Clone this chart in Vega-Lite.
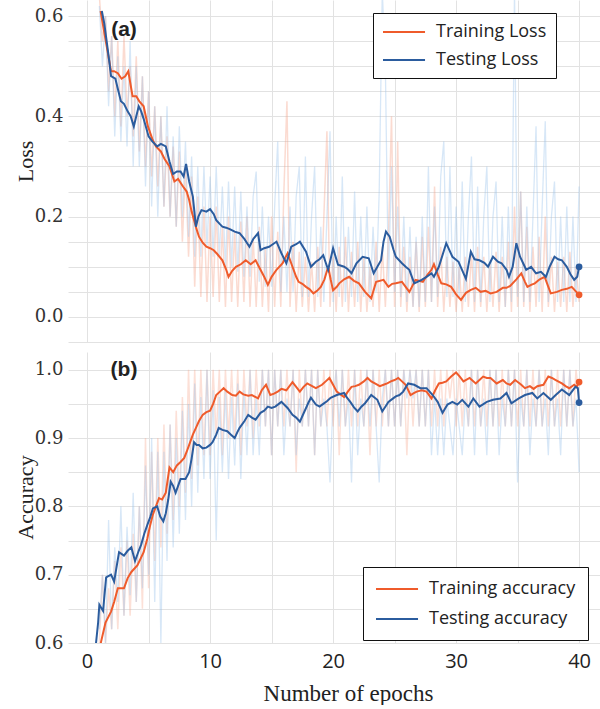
{
"$schema": "https://vega.github.io/schema/vega-lite/v6.json",
"padding": {"left": 14, "top": 0, "right": 0, "bottom": 0},
"background": "white",
"spacing": 10,
"config": {"view": {"stroke": null}, "axis": {"gridColor": "#e2e2e2", "gridWidth": 1, "ticks": false, "domain": false}},
"datasets": {
"loss": [
{"s":"Training Loss","e":1.1,"v":0.61},{"s":"Training Loss","e":1.55,"v":0.546},{"s":"Training Loss","e":1.95,"v":0.49},{"s":"Training Loss","e":2.2,"v":0.49},{"s":"Training Loss","e":2.5,"v":0.486},{"s":"Training Loss","e":2.8,"v":0.475},{"s":"Training Loss","e":3.1,"v":0.48},{"s":"Training Loss","e":3.35,"v":0.49},{"s":"Training Loss","e":3.7,"v":0.44},{"s":"Training Loss","e":4.0,"v":0.44},{"s":"Training Loss","e":4.25,"v":0.43},{"s":"Training Loss","e":4.6,"v":0.42},{"s":"Training Loss","e":4.95,"v":0.38},{"s":"Training Loss","e":5.3,"v":0.355},{"s":"Training Loss","e":5.6,"v":0.34},{"s":"Training Loss","e":6.0,"v":0.33},{"s":"Training Loss","e":6.3,"v":0.315},{"s":"Training Loss","e":6.7,"v":0.3},{"s":"Training Loss","e":7.1,"v":0.27},{"s":"Training Loss","e":7.4,"v":0.275},{"s":"Training Loss","e":7.8,"v":0.26},{"s":"Training Loss","e":8.1,"v":0.25},{"s":"Training Loss","e":8.3,"v":0.233},{"s":"Training Loss","e":8.5,"v":0.21},{"s":"Training Loss","e":8.7,"v":0.193},{"s":"Training Loss","e":8.9,"v":0.175},{"s":"Training Loss","e":9.1,"v":0.16},{"s":"Training Loss","e":9.4,"v":0.148},{"s":"Training Loss","e":9.7,"v":0.14},{"s":"Training Loss","e":10.0,"v":0.137},{"s":"Training Loss","e":10.3,"v":0.133},{"s":"Training Loss","e":10.6,"v":0.125},{"s":"Training Loss","e":11.0,"v":0.113},{"s":"Training Loss","e":11.3,"v":0.095},{"s":"Training Loss","e":11.5,"v":0.08},{"s":"Training Loss","e":11.8,"v":0.092},{"s":"Training Loss","e":12.1,"v":0.1},{"s":"Training Loss","e":12.5,"v":0.105},{"s":"Training Loss","e":12.9,"v":0.113},{"s":"Training Loss","e":13.3,"v":0.105},{"s":"Training Loss","e":13.7,"v":0.113},{"s":"Training Loss","e":14.1,"v":0.094},{"s":"Training Loss","e":14.4,"v":0.08},{"s":"Training Loss","e":14.7,"v":0.064},{"s":"Training Loss","e":15.0,"v":0.08},{"s":"Training Loss","e":15.4,"v":0.094},{"s":"Training Loss","e":15.9,"v":0.107},{"s":"Training Loss","e":16.3,"v":0.127},{"s":"Training Loss","e":16.7,"v":0.1},{"s":"Training Loss","e":17.0,"v":0.08},{"s":"Training Loss","e":17.2,"v":0.07},{"s":"Training Loss","e":17.5,"v":0.066},{"s":"Training Loss","e":17.8,"v":0.06},{"s":"Training Loss","e":18.1,"v":0.055},{"s":"Training Loss","e":18.4,"v":0.047},{"s":"Training Loss","e":18.7,"v":0.052},{"s":"Training Loss","e":19.0,"v":0.06},{"s":"Training Loss","e":19.3,"v":0.075},{"s":"Training Loss","e":19.6,"v":0.1},{"s":"Training Loss","e":19.8,"v":0.075},{"s":"Training Loss","e":20.0,"v":0.053},{"s":"Training Loss","e":20.3,"v":0.06},{"s":"Training Loss","e":20.5,"v":0.067},{"s":"Training Loss","e":20.9,"v":0.075},{"s":"Training Loss","e":21.3,"v":0.08},{"s":"Training Loss","e":21.7,"v":0.072},{"s":"Training Loss","e":22.1,"v":0.067},{"s":"Training Loss","e":22.6,"v":0.05},{"s":"Training Loss","e":23.1,"v":0.037},{"s":"Training Loss","e":23.5,"v":0.07},{"s":"Training Loss","e":24.1,"v":0.074},{"s":"Training Loss","e":24.5,"v":0.06},{"s":"Training Loss","e":24.8,"v":0.066},{"s":"Training Loss","e":25.1,"v":0.067},{"s":"Training Loss","e":25.6,"v":0.07},{"s":"Training Loss","e":25.9,"v":0.06},{"s":"Training Loss","e":26.2,"v":0.05},{"s":"Training Loss","e":26.7,"v":0.074},{"s":"Training Loss","e":27.3,"v":0.07},{"s":"Training Loss","e":27.7,"v":0.085},{"s":"Training Loss","e":28.0,"v":0.094},{"s":"Training Loss","e":28.2,"v":0.105},{"s":"Training Loss","e":28.5,"v":0.085},{"s":"Training Loss","e":28.8,"v":0.067},{"s":"Training Loss","e":29.2,"v":0.065},{"s":"Training Loss","e":29.6,"v":0.06},{"s":"Training Loss","e":30.0,"v":0.045},{"s":"Training Loss","e":30.4,"v":0.034},{"s":"Training Loss","e":30.8,"v":0.048},{"s":"Training Loss","e":31.2,"v":0.054},{"s":"Training Loss","e":31.6,"v":0.058},{"s":"Training Loss","e":32.0,"v":0.05},{"s":"Training Loss","e":32.4,"v":0.052},{"s":"Training Loss","e":32.8,"v":0.047},{"s":"Training Loss","e":33.3,"v":0.05},{"s":"Training Loss","e":33.8,"v":0.058},{"s":"Training Loss","e":34.1,"v":0.058},{"s":"Training Loss","e":34.4,"v":0.062},{"s":"Training Loss","e":34.9,"v":0.075},{"s":"Training Loss","e":35.3,"v":0.087},{"s":"Training Loss","e":35.6,"v":0.07},{"s":"Training Loss","e":35.8,"v":0.06},{"s":"Training Loss","e":36.1,"v":0.064},{"s":"Training Loss","e":36.4,"v":0.067},{"s":"Training Loss","e":36.8,"v":0.075},{"s":"Training Loss","e":37.2,"v":0.08},{"s":"Training Loss","e":37.5,"v":0.06},{"s":"Training Loss","e":37.7,"v":0.047},{"s":"Training Loss","e":38.2,"v":0.05},{"s":"Training Loss","e":38.6,"v":0.054},{"s":"Training Loss","e":39.0,"v":0.056},{"s":"Training Loss","e":39.4,"v":0.06},{"s":"Training Loss","e":39.7,"v":0.052},{"s":"Training Loss","e":40.0,"v":0.044},
{"s":"Testing Loss","e":1.2,"v":0.61},{"s":"Testing Loss","e":1.4,"v":0.585},{"s":"Testing Loss","e":1.7,"v":0.53},{"s":"Testing Loss","e":1.95,"v":0.48},{"s":"Testing Loss","e":2.3,"v":0.475},{"s":"Testing Loss","e":2.5,"v":0.455},{"s":"Testing Loss","e":2.75,"v":0.43},{"s":"Testing Loss","e":3.0,"v":0.425},{"s":"Testing Loss","e":3.3,"v":0.41},{"s":"Testing Loss","e":3.55,"v":0.4},{"s":"Testing Loss","e":3.8,"v":0.38},{"s":"Testing Loss","e":4.0,"v":0.4},{"s":"Testing Loss","e":4.2,"v":0.42},{"s":"Testing Loss","e":4.4,"v":0.41},{"s":"Testing Loss","e":4.6,"v":0.395},{"s":"Testing Loss","e":5.0,"v":0.36},{"s":"Testing Loss","e":5.3,"v":0.35},{"s":"Testing Loss","e":5.7,"v":0.34},{"s":"Testing Loss","e":6.0,"v":0.345},{"s":"Testing Loss","e":6.4,"v":0.34},{"s":"Testing Loss","e":6.7,"v":0.31},{"s":"Testing Loss","e":7.0,"v":0.285},{"s":"Testing Loss","e":7.3,"v":0.29},{"s":"Testing Loss","e":7.6,"v":0.29},{"s":"Testing Loss","e":7.85,"v":0.28},{"s":"Testing Loss","e":8.05,"v":0.305},{"s":"Testing Loss","e":8.3,"v":0.27},{"s":"Testing Loss","e":8.6,"v":0.24},{"s":"Testing Loss","e":8.85,"v":0.18},{"s":"Testing Loss","e":9.05,"v":0.2},{"s":"Testing Loss","e":9.3,"v":0.213},{"s":"Testing Loss","e":9.7,"v":0.21},{"s":"Testing Loss","e":10.0,"v":0.215},{"s":"Testing Loss","e":10.3,"v":0.205},{"s":"Testing Loss","e":10.5,"v":0.193},{"s":"Testing Loss","e":10.8,"v":0.185},{"s":"Testing Loss","e":11.0,"v":0.18},{"s":"Testing Loss","e":11.3,"v":0.178},{"s":"Testing Loss","e":11.6,"v":0.175},{"s":"Testing Loss","e":12.0,"v":0.17},{"s":"Testing Loss","e":12.4,"v":0.167},{"s":"Testing Loss","e":12.8,"v":0.155},{"s":"Testing Loss","e":13.2,"v":0.14},{"s":"Testing Loss","e":13.5,"v":0.155},{"s":"Testing Loss","e":13.9,"v":0.167},{"s":"Testing Loss","e":14.1,"v":0.133},{"s":"Testing Loss","e":14.4,"v":0.137},{"s":"Testing Loss","e":14.8,"v":0.14},{"s":"Testing Loss","e":15.1,"v":0.145},{"s":"Testing Loss","e":15.4,"v":0.15},{"s":"Testing Loss","e":15.8,"v":0.127},{"s":"Testing Loss","e":16.2,"v":0.107},{"s":"Testing Loss","e":16.6,"v":0.14},{"s":"Testing Loss","e":17.0,"v":0.145},{"s":"Testing Loss","e":17.3,"v":0.15},{"s":"Testing Loss","e":17.8,"v":0.13},{"s":"Testing Loss","e":18.2,"v":0.1},{"s":"Testing Loss","e":18.6,"v":0.11},{"s":"Testing Loss","e":18.9,"v":0.115},{"s":"Testing Loss","e":19.2,"v":0.123},{"s":"Testing Loss","e":19.6,"v":0.094},{"s":"Testing Loss","e":20.0,"v":0.137},{"s":"Testing Loss","e":20.4,"v":0.104},{"s":"Testing Loss","e":20.9,"v":0.1},{"s":"Testing Loss","e":21.2,"v":0.095},{"s":"Testing Loss","e":21.5,"v":0.087},{"s":"Testing Loss","e":21.9,"v":0.107},{"s":"Testing Loss","e":22.4,"v":0.12},{"s":"Testing Loss","e":22.9,"v":0.117},{"s":"Testing Loss","e":23.3,"v":0.087},{"s":"Testing Loss","e":23.6,"v":0.1},{"s":"Testing Loss","e":23.9,"v":0.113},{"s":"Testing Loss","e":24.1,"v":0.15},{"s":"Testing Loss","e":24.3,"v":0.17},{"s":"Testing Loss","e":24.6,"v":0.16},{"s":"Testing Loss","e":24.9,"v":0.135},{"s":"Testing Loss","e":25.1,"v":0.12},{"s":"Testing Loss","e":25.6,"v":0.107},{"s":"Testing Loss","e":25.9,"v":0.1},{"s":"Testing Loss","e":26.2,"v":0.094},{"s":"Testing Loss","e":26.6,"v":0.067},{"s":"Testing Loss","e":27.2,"v":0.074},{"s":"Testing Loss","e":27.6,"v":0.08},{"s":"Testing Loss","e":28.0,"v":0.087},{"s":"Testing Loss","e":28.2,"v":0.08},{"s":"Testing Loss","e":28.6,"v":0.1},{"s":"Testing Loss","e":29.2,"v":0.147},{"s":"Testing Loss","e":29.7,"v":0.12},{"s":"Testing Loss","e":30.2,"v":0.11},{"s":"Testing Loss","e":30.8,"v":0.076},{"s":"Testing Loss","e":31.2,"v":0.13},{"s":"Testing Loss","e":31.5,"v":0.115},{"s":"Testing Loss","e":31.9,"v":0.113},{"s":"Testing Loss","e":32.3,"v":0.108},{"s":"Testing Loss","e":32.6,"v":0.1},{"s":"Testing Loss","e":33.0,"v":0.12},{"s":"Testing Loss","e":33.4,"v":0.11},{"s":"Testing Loss","e":33.7,"v":0.107},{"s":"Testing Loss","e":34.1,"v":0.094},{"s":"Testing Loss","e":34.3,"v":0.08},{"s":"Testing Loss","e":34.6,"v":0.1},{"s":"Testing Loss","e":34.9,"v":0.147},{"s":"Testing Loss","e":35.2,"v":0.12},{"s":"Testing Loss","e":35.7,"v":0.094},{"s":"Testing Loss","e":36.1,"v":0.1},{"s":"Testing Loss","e":36.5,"v":0.087},{"s":"Testing Loss","e":36.9,"v":0.09},{"s":"Testing Loss","e":37.3,"v":0.08},{"s":"Testing Loss","e":37.6,"v":0.1},{"s":"Testing Loss","e":38.0,"v":0.12},{"s":"Testing Loss","e":38.3,"v":0.115},{"s":"Testing Loss","e":38.6,"v":0.113},{"s":"Testing Loss","e":39.0,"v":0.1},{"s":"Testing Loss","e":39.3,"v":0.085},{"s":"Testing Loss","e":39.6,"v":0.074},{"s":"Testing Loss","e":39.85,"v":0.08},{"s":"Testing Loss","e":40.0,"v":0.1}
],
"acc": [
{"s":"Training accuracy","e":1.0,"v":0.59},{"s":"Training accuracy","e":1.14,"v":0.602},{"s":"Training accuracy","e":1.5,"v":0.63},{"s":"Training accuracy","e":1.95,"v":0.646},{"s":"Training accuracy","e":2.2,"v":0.66},{"s":"Training accuracy","e":2.5,"v":0.68},{"s":"Training accuracy","e":3.0,"v":0.68},{"s":"Training accuracy","e":3.3,"v":0.695},{"s":"Training accuracy","e":3.6,"v":0.704},{"s":"Training accuracy","e":4.1,"v":0.714},{"s":"Training accuracy","e":4.6,"v":0.733},{"s":"Training accuracy","e":4.9,"v":0.753},{"s":"Training accuracy","e":5.1,"v":0.77},{"s":"Training accuracy","e":5.35,"v":0.788},{"s":"Training accuracy","e":5.6,"v":0.8},{"s":"Training accuracy","e":5.85,"v":0.812},{"s":"Training accuracy","e":6.1,"v":0.81},{"s":"Training accuracy","e":6.4,"v":0.82},{"s":"Training accuracy","e":6.7,"v":0.857},{"s":"Training accuracy","e":7.0,"v":0.85},{"s":"Training accuracy","e":7.3,"v":0.86},{"s":"Training accuracy","e":7.6,"v":0.865},{"s":"Training accuracy","e":7.9,"v":0.871},{"s":"Training accuracy","e":8.1,"v":0.88},{"s":"Training accuracy","e":8.3,"v":0.89},{"s":"Training accuracy","e":8.6,"v":0.905},{"s":"Training accuracy","e":8.85,"v":0.915},{"s":"Training accuracy","e":9.1,"v":0.925},{"s":"Training accuracy","e":9.4,"v":0.934},{"s":"Training accuracy","e":9.7,"v":0.938},{"s":"Training accuracy","e":10.0,"v":0.94},{"s":"Training accuracy","e":10.25,"v":0.95},{"s":"Training accuracy","e":10.5,"v":0.963},{"s":"Training accuracy","e":10.8,"v":0.968},{"s":"Training accuracy","e":11.1,"v":0.973},{"s":"Training accuracy","e":11.4,"v":0.968},{"s":"Training accuracy","e":11.8,"v":0.963},{"s":"Training accuracy","e":12.1,"v":0.962},{"s":"Training accuracy","e":12.4,"v":0.968},{"s":"Training accuracy","e":12.7,"v":0.964},{"s":"Training accuracy","e":13.1,"v":0.962},{"s":"Training accuracy","e":13.4,"v":0.963},{"s":"Training accuracy","e":13.9,"v":0.958},{"s":"Training accuracy","e":14.2,"v":0.97},{"s":"Training accuracy","e":14.55,"v":0.978},{"s":"Training accuracy","e":14.9,"v":0.963},{"s":"Training accuracy","e":15.2,"v":0.965},{"s":"Training accuracy","e":15.5,"v":0.968},{"s":"Training accuracy","e":15.8,"v":0.972},{"s":"Training accuracy","e":16.2,"v":0.97},{"s":"Training accuracy","e":16.7,"v":0.982},{"s":"Training accuracy","e":17.0,"v":0.975},{"s":"Training accuracy","e":17.3,"v":0.968},{"s":"Training accuracy","e":17.6,"v":0.975},{"s":"Training accuracy","e":17.9,"v":0.98},{"s":"Training accuracy","e":18.3,"v":0.976},{"s":"Training accuracy","e":18.6,"v":0.973},{"s":"Training accuracy","e":19.1,"v":0.978},{"s":"Training accuracy","e":19.4,"v":0.983},{"s":"Training accuracy","e":19.7,"v":0.988},{"s":"Training accuracy","e":20.0,"v":0.978},{"s":"Training accuracy","e":20.3,"v":0.968},{"s":"Training accuracy","e":20.6,"v":0.964},{"s":"Training accuracy","e":20.9,"v":0.96},{"s":"Training accuracy","e":21.2,"v":0.968},{"s":"Training accuracy","e":21.5,"v":0.975},{"s":"Training accuracy","e":21.8,"v":0.976},{"s":"Training accuracy","e":22.1,"v":0.978},{"s":"Training accuracy","e":22.5,"v":0.983},{"s":"Training accuracy","e":22.8,"v":0.988},{"s":"Training accuracy","e":23.1,"v":0.983},{"s":"Training accuracy","e":23.4,"v":0.98},{"s":"Training accuracy","e":23.8,"v":0.976},{"s":"Training accuracy","e":24.1,"v":0.978},{"s":"Training accuracy","e":24.4,"v":0.98},{"s":"Training accuracy","e":24.7,"v":0.983},{"s":"Training accuracy","e":25.0,"v":0.985},{"s":"Training accuracy","e":25.3,"v":0.988},{"s":"Training accuracy","e":25.6,"v":0.983},{"s":"Training accuracy","e":25.9,"v":0.978},{"s":"Training accuracy","e":26.3,"v":0.963},{"s":"Training accuracy","e":26.6,"v":0.966},{"s":"Training accuracy","e":26.8,"v":0.968},{"s":"Training accuracy","e":27.2,"v":0.97},{"s":"Training accuracy","e":27.6,"v":0.968},{"s":"Training accuracy","e":28.0,"v":0.958},{"s":"Training accuracy","e":28.3,"v":0.97},{"s":"Training accuracy","e":28.6,"v":0.98},{"s":"Training accuracy","e":28.9,"v":0.981},{"s":"Training accuracy","e":29.2,"v":0.983},{"s":"Training accuracy","e":29.6,"v":0.99},{"s":"Training accuracy","e":30.0,"v":0.996},{"s":"Training accuracy","e":30.3,"v":0.99},{"s":"Training accuracy","e":30.6,"v":0.983},{"s":"Training accuracy","e":31.1,"v":0.988},{"s":"Training accuracy","e":31.6,"v":0.98},{"s":"Training accuracy","e":31.9,"v":0.985},{"s":"Training accuracy","e":32.2,"v":0.99},{"s":"Training accuracy","e":32.5,"v":0.988},{"s":"Training accuracy","e":32.8,"v":0.988},{"s":"Training accuracy","e":33.3,"v":0.98},{"s":"Training accuracy","e":33.8,"v":0.985},{"s":"Training accuracy","e":34.1,"v":0.98},{"s":"Training accuracy","e":34.4,"v":0.978},{"s":"Training accuracy","e":34.8,"v":0.985},{"s":"Training accuracy","e":35.3,"v":0.978},{"s":"Training accuracy","e":35.6,"v":0.973},{"s":"Training accuracy","e":36.0,"v":0.976},{"s":"Training accuracy","e":36.3,"v":0.972},{"s":"Training accuracy","e":36.6,"v":0.976},{"s":"Training accuracy","e":37.1,"v":0.978},{"s":"Training accuracy","e":37.5,"v":0.99},{"s":"Training accuracy","e":37.8,"v":0.988},{"s":"Training accuracy","e":38.1,"v":0.985},{"s":"Training accuracy","e":38.6,"v":0.98},{"s":"Training accuracy","e":38.9,"v":0.976},{"s":"Training accuracy","e":39.2,"v":0.973},{"s":"Training accuracy","e":39.6,"v":0.978},{"s":"Training accuracy","e":39.8,"v":0.975},{"s":"Training accuracy","e":40.0,"v":0.982},
{"s":"Testing accuracy","e":0.7,"v":0.595},{"s":"Testing accuracy","e":0.9,"v":0.63},{"s":"Testing accuracy","e":1.0,"v":0.656},{"s":"Testing accuracy","e":1.3,"v":0.647},{"s":"Testing accuracy","e":1.55,"v":0.696},{"s":"Testing accuracy","e":1.95,"v":0.7},{"s":"Testing accuracy","e":2.2,"v":0.69},{"s":"Testing accuracy","e":2.6,"v":0.733},{"s":"Testing accuracy","e":3.0,"v":0.728},{"s":"Testing accuracy","e":3.3,"v":0.735},{"s":"Testing accuracy","e":3.6,"v":0.74},{"s":"Testing accuracy","e":3.9,"v":0.72},{"s":"Testing accuracy","e":4.2,"v":0.735},{"s":"Testing accuracy","e":4.4,"v":0.744},{"s":"Testing accuracy","e":4.65,"v":0.76},{"s":"Testing accuracy","e":4.9,"v":0.773},{"s":"Testing accuracy","e":5.15,"v":0.785},{"s":"Testing accuracy","e":5.35,"v":0.797},{"s":"Testing accuracy","e":5.7,"v":0.8},{"s":"Testing accuracy","e":5.95,"v":0.785},{"s":"Testing accuracy","e":6.2,"v":0.778},{"s":"Testing accuracy","e":6.4,"v":0.79},{"s":"Testing accuracy","e":6.6,"v":0.81},{"s":"Testing accuracy","e":6.8,"v":0.836},{"s":"Testing accuracy","e":7.0,"v":0.83},{"s":"Testing accuracy","e":7.2,"v":0.82},{"s":"Testing accuracy","e":7.4,"v":0.83},{"s":"Testing accuracy","e":7.6,"v":0.84},{"s":"Testing accuracy","e":8.0,"v":0.84},{"s":"Testing accuracy","e":8.3,"v":0.85},{"s":"Testing accuracy","e":8.5,"v":0.87},{"s":"Testing accuracy","e":8.7,"v":0.894},{"s":"Testing accuracy","e":8.9,"v":0.89},{"s":"Testing accuracy","e":9.1,"v":0.89},{"s":"Testing accuracy","e":9.4,"v":0.885},{"s":"Testing accuracy","e":9.7,"v":0.886},{"s":"Testing accuracy","e":10.0,"v":0.89},{"s":"Testing accuracy","e":10.2,"v":0.894},{"s":"Testing accuracy","e":10.5,"v":0.905},{"s":"Testing accuracy","e":10.7,"v":0.915},{"s":"Testing accuracy","e":11.0,"v":0.912},{"s":"Testing accuracy","e":11.4,"v":0.91},{"s":"Testing accuracy","e":11.7,"v":0.905},{"s":"Testing accuracy","e":12.0,"v":0.9},{"s":"Testing accuracy","e":12.2,"v":0.908},{"s":"Testing accuracy","e":12.4,"v":0.915},{"s":"Testing accuracy","e":12.8,"v":0.925},{"s":"Testing accuracy","e":13.1,"v":0.934},{"s":"Testing accuracy","e":13.4,"v":0.93},{"s":"Testing accuracy","e":13.7,"v":0.927},{"s":"Testing accuracy","e":14.1,"v":0.937},{"s":"Testing accuracy","e":14.4,"v":0.94},{"s":"Testing accuracy","e":14.7,"v":0.946},{"s":"Testing accuracy","e":15.0,"v":0.944},{"s":"Testing accuracy","e":15.3,"v":0.946},{"s":"Testing accuracy","e":15.8,"v":0.953},{"s":"Testing accuracy","e":16.3,"v":0.944},{"s":"Testing accuracy","e":16.7,"v":0.934},{"s":"Testing accuracy","e":17.0,"v":0.93},{"s":"Testing accuracy","e":17.3,"v":0.924},{"s":"Testing accuracy","e":17.7,"v":0.94},{"s":"Testing accuracy","e":18.0,"v":0.952},{"s":"Testing accuracy","e":18.2,"v":0.959},{"s":"Testing accuracy","e":18.6,"v":0.949},{"s":"Testing accuracy","e":18.9,"v":0.946},{"s":"Testing accuracy","e":19.2,"v":0.95},{"s":"Testing accuracy","e":19.5,"v":0.954},{"s":"Testing accuracy","e":19.8,"v":0.959},{"s":"Testing accuracy","e":20.3,"v":0.963},{"s":"Testing accuracy","e":20.9,"v":0.966},{"s":"Testing accuracy","e":21.1,"v":0.96},{"s":"Testing accuracy","e":21.4,"v":0.953},{"s":"Testing accuracy","e":21.7,"v":0.945},{"s":"Testing accuracy","e":22.0,"v":0.939},{"s":"Testing accuracy","e":22.3,"v":0.946},{"s":"Testing accuracy","e":22.6,"v":0.951},{"s":"Testing accuracy","e":22.9,"v":0.958},{"s":"Testing accuracy","e":23.1,"v":0.963},{"s":"Testing accuracy","e":23.6,"v":0.956},{"s":"Testing accuracy","e":24.0,"v":0.939},{"s":"Testing accuracy","e":24.5,"v":0.953},{"s":"Testing accuracy","e":24.8,"v":0.957},{"s":"Testing accuracy","e":25.1,"v":0.961},{"s":"Testing accuracy","e":25.4,"v":0.963},{"s":"Testing accuracy","e":25.7,"v":0.968},{"s":"Testing accuracy","e":26.1,"v":0.98},{"s":"Testing accuracy","e":26.6,"v":0.978},{"s":"Testing accuracy","e":27.1,"v":0.973},{"s":"Testing accuracy","e":27.6,"v":0.973},{"s":"Testing accuracy","e":28.1,"v":0.963},{"s":"Testing accuracy","e":28.5,"v":0.953},{"s":"Testing accuracy","e":28.9,"v":0.937},{"s":"Testing accuracy","e":29.3,"v":0.949},{"s":"Testing accuracy","e":29.7,"v":0.953},{"s":"Testing accuracy","e":30.1,"v":0.949},{"s":"Testing accuracy","e":30.5,"v":0.956},{"s":"Testing accuracy","e":31.0,"v":0.946},{"s":"Testing accuracy","e":31.4,"v":0.958},{"s":"Testing accuracy","e":31.9,"v":0.946},{"s":"Testing accuracy","e":32.5,"v":0.953},{"s":"Testing accuracy","e":33.0,"v":0.956},{"s":"Testing accuracy","e":33.6,"v":0.958},{"s":"Testing accuracy","e":34.1,"v":0.966},{"s":"Testing accuracy","e":34.5,"v":0.951},{"s":"Testing accuracy","e":35.1,"v":0.958},{"s":"Testing accuracy","e":35.6,"v":0.963},{"s":"Testing accuracy","e":36.2,"v":0.966},{"s":"Testing accuracy","e":36.6,"v":0.958},{"s":"Testing accuracy","e":37.1,"v":0.966},{"s":"Testing accuracy","e":37.7,"v":0.956},{"s":"Testing accuracy","e":38.1,"v":0.963},{"s":"Testing accuracy","e":38.6,"v":0.971},{"s":"Testing accuracy","e":39.2,"v":0.963},{"s":"Testing accuracy","e":39.7,"v":0.975},{"s":"Testing accuracy","e":39.9,"v":0.973},{"s":"Testing accuracy","e":40.0,"v":0.952}
],
"tlr": [
{"e":1.0,"v":0.64},{"e":1.25,"v":0.55},{"e":1.5,"v":0.6},{"e":1.75,"v":0.45},{"e":2.0,"v":0.56},{"e":2.25,"v":0.4},{"e":2.5,"v":0.55},{"e":2.75,"v":0.38},{"e":3.0,"v":0.56},{"e":3.25,"v":0.4},{"e":3.5,"v":0.5},{"e":3.75,"v":0.36},{"e":4.0,"v":0.52},{"e":4.25,"v":0.33},{"e":4.5,"v":0.48},{"e":4.75,"v":0.3},{"e":5.0,"v":0.45},{"e":5.25,"v":0.28},{"e":5.5,"v":0.42},{"e":5.75,"v":0.26},{"e":6.0,"v":0.4},{"e":6.25,"v":0.22},{"e":6.5,"v":0.36},{"e":6.75,"v":0.2},{"e":7.0,"v":0.34},{"e":7.25,"v":0.18},{"e":7.5,"v":0.33},{"e":7.75,"v":0.15},{"e":8.0,"v":0.3},{"e":8.25,"v":0.12},{"e":8.5,"v":0.28},{"e":8.75,"v":0.06},{"e":9.0,"v":0.24},{"e":9.25,"v":0.04},{"e":9.5,"v":0.22},{"e":9.75,"v":0.03},{"e":10.0,"v":0.2},{"e":10.25,"v":0.04},{"e":10.5,"v":0.22},{"e":10.75,"v":0.03},{"e":11.0,"v":0.18},{"e":11.25,"v":0.02},{"e":11.5,"v":0.2},{"e":11.75,"v":0.03},{"e":12.0,"v":0.17},{"e":12.25,"v":0.02},{"e":12.5,"v":0.19},{"e":12.75,"v":0.03},{"e":13.0,"v":0.2},{"e":13.25,"v":0.02},{"e":13.5,"v":0.16},{"e":13.75,"v":0.02},{"e":14.0,"v":0.18},{"e":14.25,"v":0.02},{"e":14.5,"v":0.14},{"e":14.75,"v":0.01},{"e":15.0,"v":0.2},{"e":15.25,"v":0.02},{"e":15.5,"v":0.17},{"e":15.75,"v":0.02},{"e":16.0,"v":0.25},{"e":16.25,"v":0.43},{"e":16.5,"v":0.02},{"e":16.75,"v":0.15},{"e":17.0,"v":0.01},{"e":17.25,"v":0.13},{"e":17.5,"v":0.02},{"e":17.75,"v":0.12},{"e":18.0,"v":0.01},{"e":18.25,"v":0.11},{"e":18.5,"v":0.01},{"e":18.75,"v":0.14},{"e":19.0,"v":0.02},{"e":19.25,"v":0.2},{"e":19.5,"v":0.37},{"e":19.75,"v":0.02},{"e":20.0,"v":0.12},{"e":20.25,"v":0.01},{"e":20.5,"v":0.14},{"e":20.75,"v":0.02},{"e":21.0,"v":0.16},{"e":21.25,"v":0.01},{"e":21.5,"v":0.13},{"e":21.75,"v":0.02},{"e":22.0,"v":0.15},{"e":22.25,"v":0.01},{"e":22.5,"v":0.12},{"e":22.75,"v":0.01},{"e":23.0,"v":0.1},{"e":23.25,"v":0.02},{"e":23.5,"v":0.15},{"e":23.75,"v":0.01},{"e":24.0,"v":0.14},{"e":24.25,"v":0.02},{"e":24.5,"v":0.16},{"e":24.75,"v":0.4},{"e":25.0,"v":0.02},{"e":25.25,"v":0.35},{"e":25.5,"v":0.02},{"e":25.75,"v":0.14},{"e":26.0,"v":0.01},{"e":26.25,"v":0.12},{"e":26.5,"v":0.02},{"e":26.75,"v":0.15},{"e":27.0,"v":0.01},{"e":27.25,"v":0.16},{"e":27.5,"v":0.02},{"e":27.75,"v":0.18},{"e":28.0,"v":0.03},{"e":28.25,"v":0.26},{"e":28.5,"v":0.02},{"e":28.75,"v":0.14},{"e":29.0,"v":0.01},{"e":29.25,"v":0.12},{"e":29.5,"v":0.02},{"e":29.75,"v":0.11},{"e":30.0,"v":0.01},{"e":30.25,"v":0.1},{"e":30.5,"v":0.01},{"e":30.75,"v":0.12},{"e":31.0,"v":0.02},{"e":31.25,"v":0.13},{"e":31.5,"v":0.01},{"e":31.75,"v":0.14},{"e":32.0,"v":0.02},{"e":32.25,"v":0.12},{"e":32.5,"v":0.01},{"e":32.75,"v":0.11},{"e":33.0,"v":0.02},{"e":33.25,"v":0.13},{"e":33.5,"v":0.01},{"e":33.75,"v":0.12},{"e":34.0,"v":0.02},{"e":34.25,"v":0.15},{"e":34.5,"v":0.01},{"e":34.75,"v":0.22},{"e":35.0,"v":0.02},{"e":35.25,"v":0.25},{"e":35.5,"v":0.02},{"e":35.75,"v":0.18},{"e":36.0,"v":0.01},{"e":36.25,"v":0.14},{"e":36.5,"v":0.02},{"e":36.75,"v":0.16},{"e":37.0,"v":0.01},{"e":37.25,"v":0.2},{"e":37.5,"v":0.02},{"e":37.75,"v":0.12},{"e":38.0,"v":0.01},{"e":38.25,"v":0.11},{"e":38.5,"v":0.02},{"e":38.75,"v":0.12},{"e":39.0,"v":0.01},{"e":39.25,"v":0.13},{"e":39.5,"v":0.02},{"e":39.75,"v":0.1},{"e":40.0,"v":0.03}
],
"vlr": [
{"e":1.0,"v":0.62},{"e":1.25,"v":0.5},{"e":1.5,"v":0.6},{"e":1.75,"v":0.42},{"e":2.0,"v":0.56},{"e":2.25,"v":0.36},{"e":2.5,"v":0.52},{"e":2.75,"v":0.35},{"e":3.0,"v":0.5},{"e":3.25,"v":0.34},{"e":3.5,"v":0.55},{"e":3.75,"v":0.3},{"e":4.0,"v":0.5},{"e":4.25,"v":0.3},{"e":4.5,"v":0.48},{"e":4.75,"v":0.26},{"e":5.0,"v":0.45},{"e":5.25,"v":0.22},{"e":5.5,"v":0.42},{"e":5.75,"v":0.2},{"e":6.0,"v":0.4},{"e":6.25,"v":0.22},{"e":6.5,"v":0.42},{"e":6.75,"v":0.2},{"e":7.0,"v":0.36},{"e":7.25,"v":0.18},{"e":7.5,"v":0.38},{"e":7.75,"v":0.2},{"e":8.0,"v":0.35},{"e":8.25,"v":0.16},{"e":8.5,"v":0.32},{"e":8.75,"v":0.12},{"e":9.0,"v":0.3},{"e":9.25,"v":0.12},{"e":9.5,"v":0.3},{"e":9.75,"v":0.14},{"e":10.0,"v":0.28},{"e":10.25,"v":0.12},{"e":10.5,"v":0.3},{"e":10.75,"v":0.12},{"e":11.0,"v":0.26},{"e":11.25,"v":0.1},{"e":11.5,"v":0.27},{"e":11.75,"v":0.1},{"e":12.0,"v":0.26},{"e":12.25,"v":0.09},{"e":12.5,"v":0.25},{"e":12.75,"v":0.08},{"e":13.0,"v":0.22},{"e":13.25,"v":0.08},{"e":13.5,"v":0.24},{"e":13.75,"v":0.29},{"e":14.0,"v":0.07},{"e":14.25,"v":0.22},{"e":14.5,"v":0.06},{"e":14.75,"v":0.2},{"e":15.0,"v":0.06},{"e":15.25,"v":0.22},{"e":15.5,"v":0.35},{"e":15.75,"v":0.05},{"e":16.0,"v":0.2},{"e":16.25,"v":0.05},{"e":16.5,"v":0.22},{"e":16.75,"v":0.05},{"e":17.0,"v":0.24},{"e":17.25,"v":0.3},{"e":17.5,"v":0.04},{"e":17.75,"v":0.32},{"e":18.0,"v":0.04},{"e":18.25,"v":0.2},{"e":18.5,"v":0.3},{"e":18.75,"v":0.04},{"e":19.0,"v":0.18},{"e":19.25,"v":0.03},{"e":19.5,"v":0.2},{"e":19.75,"v":0.37},{"e":20.0,"v":0.03},{"e":20.25,"v":0.2},{"e":20.5,"v":0.04},{"e":20.75,"v":0.28},{"e":21.0,"v":0.03},{"e":21.25,"v":0.18},{"e":21.5,"v":0.04},{"e":21.75,"v":0.25},{"e":22.0,"v":0.03},{"e":22.25,"v":0.2},{"e":22.5,"v":0.04},{"e":22.75,"v":0.22},{"e":23.0,"v":0.03},{"e":23.25,"v":0.18},{"e":23.5,"v":0.05},{"e":23.75,"v":0.25},{"e":24.0,"v":0.65},{"e":24.25,"v":0.5},{"e":24.5,"v":0.06},{"e":24.75,"v":0.3},{"e":25.0,"v":0.05},{"e":25.25,"v":0.22},{"e":25.5,"v":0.04},{"e":25.75,"v":0.2},{"e":26.0,"v":0.03},{"e":26.25,"v":0.18},{"e":26.5,"v":0.02},{"e":26.75,"v":0.16},{"e":27.0,"v":0.02},{"e":27.25,"v":0.2},{"e":27.5,"v":0.03},{"e":27.75,"v":0.3},{"e":28.0,"v":0.03},{"e":28.25,"v":0.22},{"e":28.5,"v":0.04},{"e":28.75,"v":0.28},{"e":29.0,"v":0.35},{"e":29.25,"v":0.04},{"e":29.5,"v":0.3},{"e":29.75,"v":0.04},{"e":30.0,"v":0.22},{"e":30.25,"v":0.04},{"e":30.5,"v":0.27},{"e":30.75,"v":0.03},{"e":31.0,"v":0.2},{"e":31.25,"v":0.32},{"e":31.5,"v":0.03},{"e":31.75,"v":0.26},{"e":32.0,"v":0.03},{"e":32.25,"v":0.2},{"e":32.5,"v":0.3},{"e":32.75,"v":0.03},{"e":33.0,"v":0.2},{"e":33.25,"v":0.27},{"e":33.5,"v":0.03},{"e":33.75,"v":0.2},{"e":34.0,"v":0.02},{"e":34.25,"v":0.22},{"e":34.5,"v":0.03},{"e":34.75,"v":0.65},{"e":35.0,"v":0.04},{"e":35.25,"v":0.25},{"e":35.5,"v":0.03},{"e":35.75,"v":0.22},{"e":36.0,"v":0.03},{"e":36.25,"v":0.2},{"e":36.5,"v":0.38},{"e":36.75,"v":0.03},{"e":37.0,"v":0.22},{"e":37.25,"v":0.39},{"e":37.5,"v":0.03},{"e":37.75,"v":0.2},{"e":38.0,"v":0.27},{"e":38.25,"v":0.03},{"e":38.5,"v":0.2},{"e":38.75,"v":0.03},{"e":39.0,"v":0.22},{"e":39.25,"v":0.03},{"e":39.5,"v":0.2},{"e":39.75,"v":0.03},{"e":40.0,"v":0.26}
],
"tar": [
{"e":1.0,"v":0.6},{"e":1.25,"v":0.7},{"e":1.5,"v":0.6},{"e":1.75,"v":0.68},{"e":2.0,"v":0.62},{"e":2.25,"v":0.72},{"e":2.5,"v":0.62},{"e":2.75,"v":0.74},{"e":3.0,"v":0.64},{"e":3.25,"v":0.75},{"e":3.5,"v":0.64},{"e":3.75,"v":0.76},{"e":4.0,"v":0.66},{"e":4.25,"v":0.8},{"e":4.5,"v":0.65},{"e":4.75,"v":0.9},{"e":5.0,"v":0.68},{"e":5.25,"v":0.88},{"e":5.5,"v":0.72},{"e":5.75,"v":0.9},{"e":6.0,"v":0.74},{"e":6.25,"v":0.92},{"e":6.5,"v":0.76},{"e":6.75,"v":0.92},{"e":7.0,"v":0.78},{"e":7.25,"v":0.94},{"e":7.5,"v":0.8},{"e":7.75,"v":0.96},{"e":8.0,"v":0.82},{"e":8.25,"v":1.0},{"e":8.5,"v":0.84},{"e":8.75,"v":1.0},{"e":9.0,"v":0.86},{"e":9.25,"v":1.0},{"e":9.5,"v":0.875},{"e":9.75,"v":1.0},{"e":10.0,"v":0.875},{"e":10.25,"v":1.0},{"e":10.5,"v":0.9},{"e":10.75,"v":1.0},{"e":11.0,"v":0.875},{"e":11.25,"v":1.0},{"e":11.5,"v":0.9},{"e":11.75,"v":1.0},{"e":12.0,"v":0.9},{"e":12.25,"v":1.0},{"e":12.5,"v":0.875},{"e":12.75,"v":1.0},{"e":13.0,"v":0.917},{"e":13.25,"v":1.0},{"e":13.5,"v":0.9},{"e":13.75,"v":1.0},{"e":14.0,"v":0.917},{"e":14.25,"v":1.0},{"e":14.5,"v":0.917},{"e":14.75,"v":1.0},{"e":15.0,"v":0.875},{"e":15.25,"v":1.0},{"e":15.5,"v":0.917},{"e":15.75,"v":1.0},{"e":16.0,"v":0.917},{"e":16.25,"v":1.0},{"e":16.5,"v":0.917},{"e":16.75,"v":1.0},{"e":17.0,"v":0.85},{"e":17.25,"v":1.0},{"e":17.5,"v":0.917},{"e":17.75,"v":1.0},{"e":18.0,"v":0.917},{"e":18.25,"v":1.0},{"e":18.5,"v":0.875},{"e":18.75,"v":1.0},{"e":19.0,"v":0.917},{"e":19.25,"v":1.0},{"e":19.5,"v":0.917},{"e":19.75,"v":1.0},{"e":20.0,"v":0.917},{"e":20.25,"v":1.0},{"e":20.5,"v":0.875},{"e":20.75,"v":1.0},{"e":21.0,"v":0.917},{"e":21.25,"v":1.0},{"e":21.5,"v":0.917},{"e":21.75,"v":1.0},{"e":22.0,"v":0.917},{"e":22.25,"v":1.0},{"e":22.5,"v":0.917},{"e":22.75,"v":1.0},{"e":23.0,"v":0.875},{"e":23.25,"v":1.0},{"e":23.5,"v":0.917},{"e":23.75,"v":1.0},{"e":24.0,"v":0.917},{"e":24.25,"v":1.0},{"e":24.5,"v":0.917},{"e":24.75,"v":1.0},{"e":25.0,"v":0.917},{"e":25.25,"v":1.0},{"e":25.5,"v":0.917},{"e":25.75,"v":1.0},{"e":26.0,"v":0.875},{"e":26.25,"v":1.0},{"e":26.5,"v":0.917},{"e":26.75,"v":1.0},{"e":27.0,"v":0.917},{"e":27.25,"v":1.0},{"e":27.5,"v":0.917},{"e":27.75,"v":1.0},{"e":28.0,"v":0.917},{"e":28.25,"v":1.0},{"e":28.5,"v":0.917},{"e":28.75,"v":1.0},{"e":29.0,"v":0.917},{"e":29.25,"v":1.0},{"e":29.5,"v":0.958},{"e":29.75,"v":1.0},{"e":30.0,"v":0.917},{"e":30.25,"v":1.0},{"e":30.5,"v":0.917},{"e":30.75,"v":1.0},{"e":31.0,"v":0.917},{"e":31.25,"v":1.0},{"e":31.5,"v":0.917},{"e":31.75,"v":1.0},{"e":32.0,"v":0.917},{"e":32.25,"v":1.0},{"e":32.5,"v":0.917},{"e":32.75,"v":1.0},{"e":33.0,"v":0.917},{"e":33.25,"v":1.0},{"e":33.5,"v":0.917},{"e":33.75,"v":1.0},{"e":34.0,"v":0.917},{"e":34.25,"v":1.0},{"e":34.5,"v":0.917},{"e":34.75,"v":1.0},{"e":35.0,"v":0.917},{"e":35.25,"v":1.0},{"e":35.5,"v":0.917},{"e":35.75,"v":1.0},{"e":36.0,"v":0.917},{"e":36.25,"v":1.0},{"e":36.5,"v":0.917},{"e":36.75,"v":1.0},{"e":37.0,"v":0.917},{"e":37.25,"v":1.0},{"e":37.5,"v":0.917},{"e":37.75,"v":1.0},{"e":38.0,"v":0.917},{"e":38.25,"v":1.0},{"e":38.5,"v":0.917},{"e":38.75,"v":1.0},{"e":39.0,"v":0.917},{"e":39.25,"v":1.0},{"e":39.5,"v":0.917},{"e":39.75,"v":1.0},{"e":40.0,"v":0.958}
],
"var": [
{"e":1.0,"v":0.62},{"e":1.25,"v":0.7},{"e":1.5,"v":0.6},{"e":1.75,"v":0.78},{"e":2.0,"v":0.62},{"e":2.25,"v":0.74},{"e":2.5,"v":0.66},{"e":2.75,"v":0.8},{"e":3.0,"v":0.64},{"e":3.25,"v":0.77},{"e":3.5,"v":0.67},{"e":3.75,"v":0.82},{"e":4.0,"v":0.66},{"e":4.25,"v":0.8},{"e":4.5,"v":0.68},{"e":4.75,"v":0.86},{"e":5.0,"v":0.7},{"e":5.25,"v":0.9},{"e":5.5,"v":0.66},{"e":5.75,"v":0.88},{"e":6.0,"v":0.6},{"e":6.25,"v":0.88},{"e":6.5,"v":0.72},{"e":6.75,"v":0.92},{"e":7.0,"v":0.74},{"e":7.25,"v":0.9},{"e":7.5,"v":0.76},{"e":7.75,"v":0.94},{"e":8.0,"v":0.78},{"e":8.25,"v":0.95},{"e":8.5,"v":0.8},{"e":8.75,"v":0.98},{"e":9.0,"v":0.82},{"e":9.25,"v":0.96},{"e":9.5,"v":0.84},{"e":9.75,"v":1.0},{"e":10.0,"v":0.84},{"e":10.25,"v":0.97},{"e":10.5,"v":0.75},{"e":10.75,"v":0.96},{"e":11.0,"v":0.85},{"e":11.25,"v":0.97},{"e":11.5,"v":0.84},{"e":11.75,"v":0.96},{"e":12.0,"v":0.86},{"e":12.25,"v":0.98},{"e":12.5,"v":0.84},{"e":12.75,"v":0.97},{"e":13.0,"v":0.875},{"e":13.25,"v":1.0},{"e":13.5,"v":0.875},{"e":13.75,"v":0.96},{"e":14.0,"v":0.875},{"e":14.25,"v":1.0},{"e":14.5,"v":0.917},{"e":14.75,"v":1.0},{"e":15.0,"v":0.875},{"e":15.25,"v":1.0},{"e":15.5,"v":0.917},{"e":15.75,"v":1.0},{"e":16.0,"v":0.875},{"e":16.25,"v":0.958},{"e":16.5,"v":0.917},{"e":16.75,"v":1.0},{"e":17.0,"v":0.875},{"e":17.25,"v":0.958},{"e":17.5,"v":0.917},{"e":17.75,"v":1.0},{"e":18.0,"v":0.917},{"e":18.25,"v":1.0},{"e":18.5,"v":0.875},{"e":18.75,"v":1.0},{"e":19.0,"v":0.917},{"e":19.25,"v":0.958},{"e":19.5,"v":0.917},{"e":19.75,"v":0.835},{"e":20.0,"v":0.958},{"e":20.25,"v":1.0},{"e":20.5,"v":0.917},{"e":20.75,"v":1.0},{"e":21.0,"v":0.917},{"e":21.25,"v":0.958},{"e":21.5,"v":0.835},{"e":21.75,"v":1.0},{"e":22.0,"v":0.875},{"e":22.25,"v":0.958},{"e":22.5,"v":0.917},{"e":22.75,"v":1.0},{"e":23.0,"v":0.917},{"e":23.25,"v":1.0},{"e":23.5,"v":0.917},{"e":23.75,"v":0.835},{"e":24.0,"v":0.958},{"e":24.25,"v":1.0},{"e":24.5,"v":0.917},{"e":24.75,"v":1.0},{"e":25.0,"v":0.917},{"e":25.25,"v":1.0},{"e":25.5,"v":0.917},{"e":25.75,"v":1.0},{"e":26.0,"v":0.958},{"e":26.25,"v":1.0},{"e":26.5,"v":0.958},{"e":26.75,"v":1.0},{"e":27.0,"v":0.917},{"e":27.25,"v":1.0},{"e":27.5,"v":0.917},{"e":27.75,"v":1.0},{"e":28.0,"v":0.875},{"e":28.25,"v":0.958},{"e":28.5,"v":0.875},{"e":28.75,"v":0.958},{"e":29.0,"v":0.875},{"e":29.25,"v":0.958},{"e":29.5,"v":0.917},{"e":29.75,"v":0.875},{"e":30.0,"v":0.958},{"e":30.25,"v":0.917},{"e":30.5,"v":0.875},{"e":30.75,"v":0.958},{"e":31.0,"v":0.917},{"e":31.25,"v":1.0},{"e":31.5,"v":0.875},{"e":31.75,"v":1.0},{"e":32.0,"v":0.917},{"e":32.25,"v":0.958},{"e":32.5,"v":0.875},{"e":32.75,"v":1.0},{"e":33.0,"v":0.917},{"e":33.25,"v":1.0},{"e":33.5,"v":0.875},{"e":33.75,"v":0.958},{"e":34.0,"v":0.917},{"e":34.25,"v":1.0},{"e":34.5,"v":0.917},{"e":34.75,"v":1.0},{"e":35.0,"v":0.835},{"e":35.25,"v":0.958},{"e":35.5,"v":0.917},{"e":35.75,"v":1.0},{"e":36.0,"v":0.875},{"e":36.25,"v":0.958},{"e":36.5,"v":0.917},{"e":36.75,"v":1.0},{"e":37.0,"v":0.917},{"e":37.25,"v":0.958},{"e":37.5,"v":0.875},{"e":37.75,"v":1.0},{"e":38.0,"v":0.917},{"e":38.25,"v":0.958},{"e":38.5,"v":0.875},{"e":38.75,"v":1.0},{"e":39.0,"v":0.917},{"e":39.25,"v":1.0},{"e":39.5,"v":0.917},{"e":39.75,"v":0.958},{"e":40.0,"v":0.85}
]
},
"vconcat": [
{
"width": 532, "height": 342,
"encoding": {
"x": {"field": "e", "type": "quantitative", "scale": {"domain": [-1.55, 41.7], "nice": false, "zero": false},
 "axis": {"values": [0,5,10,15,20,25,30,35,40], "labels": false, "title": null, "grid": true}},
"y": {"field": "v", "type": "quantitative", "scale": {"domain": [-0.05, 0.632], "nice": false, "zero": false},
 "axis": {"values": [-0.05,0,0.05,0.1,0.15,0.2,0.25,0.3,0.35,0.4,0.45,0.5,0.55,0.6], "format": ".2f",
  "labelExpr": "indexof(['0.00','0.20','0.40','0.60'], datum.label) >= 0 ? format(datum.value, '.1f') : ''",
  "labelFont": "DejaVu Serif", "labelFontSize": 18, "labelColor": "#333", "labelPadding": 5,
  "title": "Loss", "titleFont": "Liberation Serif", "titleFontSize": 22, "titleFontWeight": "normal", "titleColor": "#222",
  "titleX": -43, "titleY": 161, "titleBaseline": "middle", "titleAngle": -90, "titleAlign": "center"}}
},
"layer": [
{"data": {"name": "tlr"}, "mark": {"type": "line", "clip": true, "color": "#F6A58C", "strokeWidth": 1.5, "opacity": 0.4}},
{"data": {"name": "vlr"}, "mark": {"type": "line", "clip": true, "color": "#9CC3EC", "strokeWidth": 1.3, "opacity": 0.4}},
{"data": {"values": [{}]}, "mark": {"type": "rule", "color": "#a8a8a8", "strokeWidth": 1.5},
 "encoding": {"x": {"datum": 0}, "y": {"datum": -0.05}, "y2": {"datum": 0.632}}},
{"data": {"values": [{}]}, "mark": {"type": "rule", "color": "#a8a095", "strokeWidth": 2},
 "encoding": {"x": {"datum": -1.55}, "x2": {"datum": 41.7}, "y": {"datum": 0}}},
{"data": {"name": "loss"}, "mark": {"type": "line", "clip": true, "strokeWidth": 2},
 "encoding": {"color": {"field": "s", "type": "nominal",
  "scale": {"domain": ["Training Loss", "Testing Loss"], "range": ["#EF5B2B", "#2B5C9E"]},
  "legend": {"orient": "none", "legendX": 305, "legendY": 13, "title": null, "strokeColor": "#111", "fillColor": "white",
   "padding": 9, "labelFont": "Open Sans", "labelFontSize": 18, "labelColor": "#222", "symbolType": "M-1,0H3.67",
   "symbolSize": 324, "symbolStrokeWidth": 2, "rowPadding": 9, "labelOffset": 34}}}},
{"data": {"name": "loss"}, "transform": [{"filter": "datum.e == 40"}], "mark": {"type": "point", "filled": true, "size": 45, "opacity": 1},
 "encoding": {"color": {"field": "s", "type": "nominal", "legend": null}}},
{"data": {"name": "loss"}, "transform": [{"filter": "datum.e == 40 && datum.s == 'Training Loss'"}],
 "mark": {"type": "text", "font": "Liberation Sans", "fontWeight": "bold", "fontSize": 21, "fill": "#222", "text": "(a)"},
 "encoding": {"x": {"datum": 3.0}, "y": {"datum": 0.572}}}
]
},
{
"width": 532, "height": 291,
"encoding": {
"x": {"field": "e", "type": "quantitative", "scale": {"domain": [-1.55, 41.7], "nice": false, "zero": false},
 "axis": {"values": [0,5,10,15,20,25,30,35,40], "labelExpr": "datum.value % 10 === 0 ? datum.label : ''",
  "labelFont": "Open Sans", "labelFontSize": 20, "labelColor": "#222", "labelPadding": 8, "grid": true,
  "title": "Number of epochs", "titleFont": "Liberation Serif", "titleFontSize": 23, "titleFontWeight": "normal", "titleColor": "#222",
  "titleX": 280, "titleY": 57, "titleBaseline": "alphabetic", "titleAlign": "center"}},
"y": {"field": "v", "type": "quantitative", "scale": {"domain": [0.6, 1.026], "nice": false, "zero": false},
 "axis": {"values": [0.6,0.65,0.7,0.75,0.8,0.85,0.9,0.95,1.0], "format": ".2f",
  "labelExpr": "indexof(['0.60','0.70','0.80','0.90','1.00'], datum.label) >= 0 ? format(datum.value, '.1f') : ''",
  "labelFont": "DejaVu Serif", "labelFontSize": 18, "labelColor": "#333", "labelPadding": 5,
  "title": "Accuracy", "titleFont": "Liberation Serif", "titleFontSize": 22, "titleFontWeight": "normal", "titleColor": "#222",
  "titleX": -43, "titleY": 145, "titleBaseline": "middle", "titleAngle": -90, "titleAlign": "center"}}
},
"layer": [
{"data": {"name": "tar"}, "mark": {"type": "line", "clip": true, "color": "#F6A58C", "strokeWidth": 1.5, "opacity": 0.35}},
{"data": {"name": "var"}, "mark": {"type": "line", "clip": true, "color": "#9CC3EC", "strokeWidth": 1.3, "opacity": 0.4}},
{"data": {"values": [{}]}, "mark": {"type": "rule", "color": "#a8a8a8", "strokeWidth": 1.5},
 "encoding": {"x": {"datum": 0}, "y": {"datum": 0.6}, "y2": {"datum": 1.026}}},
{"data": {"values": [{}]}, "mark": {"type": "rule", "color": "#c4c4c4", "strokeWidth": 1.5},
 "encoding": {"x": {"datum": -1.55}, "x2": {"datum": 41.7}, "y": {"datum": 0.75}}},
{"data": {"name": "acc"}, "mark": {"type": "line", "clip": true, "strokeWidth": 2},
 "encoding": {"color": {"field": "s", "type": "nominal",
  "scale": {"domain": ["Training accuracy", "Testing accuracy"], "range": ["#EF5B2B", "#2B5C9E"]},
  "legend": {"orient": "none", "legendX": 295, "legendY": 215, "title": null, "strokeColor": "#111", "fillColor": "white",
   "padding": 12, "labelFont": "Open Sans", "labelFontSize": 18, "labelColor": "#222", "symbolType": "M-1,0H3.67",
   "symbolSize": 324, "symbolStrokeWidth": 2, "rowPadding": 11, "labelOffset": 34}}}},
{"data": {"name": "acc"}, "transform": [{"filter": "datum.e == 40"}], "mark": {"type": "point", "filled": true, "size": 45, "opacity": 1},
 "encoding": {"color": {"field": "s", "type": "nominal", "legend": null}}},
{"data": {"name": "acc"}, "transform": [{"filter": "datum.e == 40 && datum.s == 'Training accuracy'"}],
 "mark": {"type": "text", "font": "Liberation Sans", "fontWeight": "bold", "fontSize": 21, "fill": "#222", "text": "(b)"},
 "encoding": {"x": {"datum": 3.0}, "y": {"datum": 1.0}}}
]
}
],
"resolve": {"scale": {"color": "independent"}, "legend": {"color": "independent"}}
}
